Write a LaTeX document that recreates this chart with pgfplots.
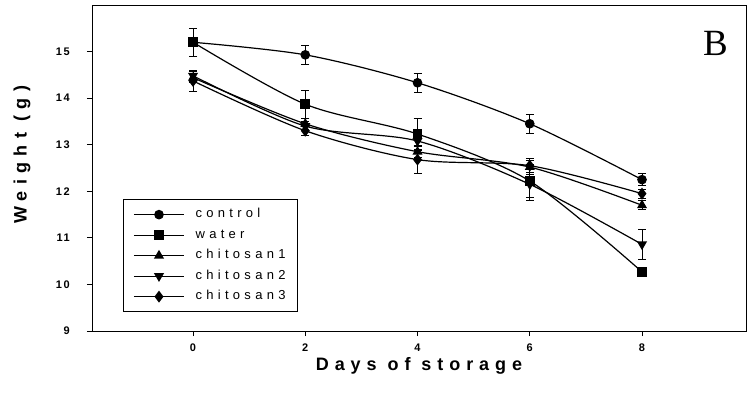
\documentclass[border=0pt]{standalone}
\usepackage{fontspec}
\setmainfont{Liberation Sans}
\newfontfamily\serifB{Liberation Serif}
\usepackage{pgfplots}
\usepackage{pgfplotstable}
\pgfplotsset{compat=1.18}

\pgfplotstableread{
x y e
0 15.20 0.30
2 14.93 0.20
4 14.33 0.20
6 13.45 0.20
8 12.25 0.13
}\control
\pgfplotstableread{
x y e
0 15.20 0.30
2 13.87 0.30
4 13.23 0.33
6 12.22 0.35
8 10.27 0.04
}\water
\pgfplotstableread{
x y e
0 14.44 0.10
2 13.45 0.12
4 12.85 0.12
6 12.52 0.15
8 11.70 0.10
}\chitA
\pgfplotstableread{
x y e
0 14.48 0.10
2 13.40 0.10
4 13.08 0.20
6 12.15 0.35
8 10.86 0.33
}\chitB
\pgfplotstableread{
x y e
0 14.37 0.22
2 13.30 0.10
4 12.68 0.30
6 12.55 0.15
8 11.95 0.10
}\chitC

\begin{document}
\begin{tikzpicture}
\path[use as bounding box] (0,0) rectangle (750bp,-395bp);
\begin{axis}[
  at={(92bp,-331bp)}, anchor=south west,
  scale only axis, width=654bp, height=326bp,
  xmin=-1.8, xmax=9.853, ymin=9, ymax=16,
  xtick={0,2,4,6,8}, ytick={9,10,...,15},
  xtick pos=bottom, ytick pos=left, tick align=outside,
  major tick length=5bp,
  axis line style={line width=0.9bp},
  every tick/.style={black, line width=0.8bp},
  /pgf/number format/assume math mode=true,
  ticklabel style={font=\fontsize{11bp}{11bp}\selectfont\bfseries\addfontfeatures{LetterSpace=15}},
  xticklabel style={anchor=base, inner sep=0pt, yshift=-15bp},
  yticklabel style={anchor=east, inner sep=0pt, xshift=-17bp},
  xlabel={Days of storage},
  xlabel style={font=\fontsize{18bp}{18bp}\selectfont\bfseries\addfontfeatures{LetterSpace=33}, at={([yshift=-39bp]axis description cs:0.5,0)}, anchor=base, inner sep=0pt},
  ylabel={Weight (g)},
  ylabel style={font=\fontsize{18bp}{18bp}\selectfont\bfseries\addfontfeatures{LetterSpace=35}, at={([xshift=-70bp]axis description cs:0,0.54)}, anchor=center, inner sep=0pt},
  every axis plot/.append style={black, line width=1.2bp, smooth, tension=0.5},
  error bars/error bar style={line width=0.9bp, black, solid},
  error bars/error mark options={rotate=90, mark size=4bp, line width=0.9bp, black},
  legend image code/.code={\draw[mark repeat=2,mark phase=2,#1] plot coordinates {(0bp,0bp) (25bp,0bp) (50bp,0bp)};},
  legend cell align=left,
  legend style={at={(0.0474,0.405)}, anchor=north west, draw=black, line width=0.8bp,
    font=\fontsize{13bp}{15bp}\selectfont\addfontfeatures{LetterSpace=33},
    inner xsep=10bp, inner ysep=5bp,
    nodes={inner xsep=2bp, inner ysep=3.5bp, text height=10bp, text depth=3.5bp},
    /tikz/every odd column/.append style={column sep=9bp}},
]
\addplot[mark=*, mark size=4.2bp, mark options={fill=black}, error bars/.cd, y dir=both, y explicit]
  table[x=x, y=y, y error=e]{\control};
\addlegendentry{control}
\addplot[mark=square*, mark size=4.2bp, mark options={fill=black}, error bars/.cd, y dir=both, y explicit]
  table[x=x, y=y, y error=e]{\water};
\addlegendentry{water}
\addplot[mark=triangle*, mark size=4.6bp, mark options={fill=black}, error bars/.cd, y dir=both, y explicit]
  table[x=x, y=y, y error=e]{\chitA};
\addlegendentry{chitosan1}
\addplot[mark=triangle*, mark size=4.6bp, mark options={fill=black, rotate=180}, error bars/.cd, y dir=both, y explicit]
  table[x=x, y=y, y error=e]{\chitB};
\addlegendentry{chitosan2}
\addplot[mark=diamond*, mark size=5bp, mark options={fill=black}, error bars/.cd, y dir=both, y explicit]
  table[x=x, y=y, y error=e]{\chitC};
\addlegendentry{chitosan3}
\node[font=\serifB\fontsize{37bp}{37bp}\selectfont, anchor=base east, inner sep=0pt] at (rel axis cs:0.9725,0.8466) {B};
\end{axis}
\end{tikzpicture}
\end{document}
